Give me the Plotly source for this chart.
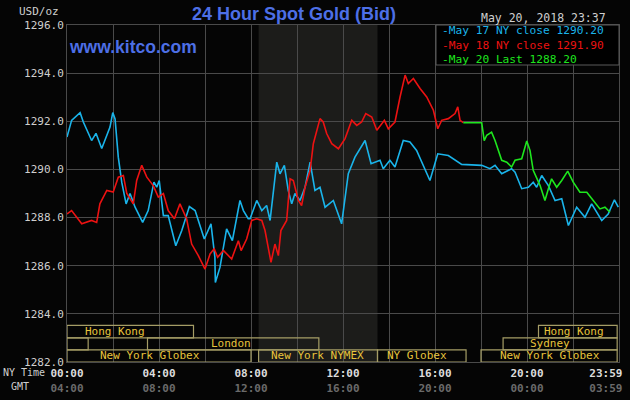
import plotly.graph_objects as go

# ---------------- data (hours since 00:00 NY time, USD/oz) ----------------
may17_hours = [0.00, 0.20, 0.57, 0.71, 1.07, 1.26, 1.51, 1.73, 1.87, 1.99, 2.09, 2.23, 2.38, 2.57, 2.74,
               2.96, 3.29, 3.53, 3.78, 3.90, 4.01, 4.19, 4.40, 4.73, 4.99, 5.32, 5.57, 5.97, 6.26, 6.43,
               6.45, 6.65, 6.94, 7.19, 7.52, 7.67, 7.88, 7.96, 8.25, 8.47, 8.68, 8.83, 9.12, 9.26, 9.45,
               9.62, 9.77, 9.91, 10.13, 10.35, 10.57, 10.78, 11.00, 11.22, 11.58, 11.94, 12.09, 12.23,
               12.52, 12.96, 13.22, 13.39, 13.61, 13.75, 14.04, 14.26, 14.62, 14.91, 15.20, 15.78, 16.12,
               16.58, 16.87, 17.16, 18.03, 18.39, 18.61, 18.90, 19.33, 19.48, 19.77, 20.06, 20.27, 20.42,
               20.64, 20.93, 21.22, 21.51, 21.80, 22.16, 22.52, 22.81, 23.25, 23.53, 23.80, 23.97]
may17_price = [1291.35, 1292.04, 1292.36, 1291.97, 1291.20, 1291.50, 1290.87, 1291.42, 1291.76, 1292.36,
               1292.10, 1290.51, 1289.47, 1288.57, 1289.00, 1288.43, 1287.80, 1288.29, 1289.47, 1289.26,
               1289.54, 1288.08, 1288.08, 1286.83, 1287.46, 1288.46, 1288.29, 1287.11, 1287.74, 1286.35,
               1285.30, 1285.93, 1287.53, 1287.04, 1288.71, 1288.29, 1287.95, 1287.95, 1288.71, 1288.29,
               1288.50, 1287.88, 1290.30, 1289.82, 1290.17, 1289.13, 1288.57, 1289.00, 1288.71, 1289.26,
               1290.30, 1289.13, 1289.26, 1288.43, 1288.71, 1287.74, 1288.71, 1289.82, 1290.51, 1291.20,
               1290.24, 1290.30, 1290.38, 1290.03, 1290.38, 1290.10, 1291.20, 1291.14, 1290.79, 1289.54,
               1290.65, 1290.58, 1290.38, 1290.21, 1290.17, 1290.03, 1290.17, 1289.82, 1290.03, 1289.89,
               1289.20, 1289.26, 1289.47, 1289.26, 1289.75, 1289.33, 1288.71, 1288.78, 1287.67, 1288.43,
               1288.01, 1288.57, 1287.88, 1288.15, 1288.74, 1288.43]

may18_hours = [0.00, 0.20, 0.64, 1.07, 1.29, 1.43, 1.73, 2.01, 2.23, 2.45, 2.60, 2.88, 3.03, 3.25, 3.47,
               3.75, 3.97, 4.19, 4.40, 4.67, 4.91, 5.20, 5.42, 5.71, 6.00, 6.22, 6.40, 6.55, 6.80, 7.16,
               7.45, 7.57, 7.81, 8.03, 8.25, 8.47, 8.61, 8.87, 9.04, 9.19, 9.30, 9.55, 9.70, 9.84, 10.06,
               10.20, 10.35, 10.57, 10.71, 11.00, 11.14, 11.29, 11.51, 11.80, 12.09, 12.38, 12.60, 12.81,
               12.99, 13.25, 13.47, 13.80, 13.97, 14.26, 14.48, 14.70, 14.84, 15.06, 15.35, 15.64, 15.93,
               16.12, 16.29, 16.58, 16.87, 16.99, 17.09, 17.23]
may18_price = [1288.15, 1288.29, 1287.74, 1287.88, 1287.80, 1288.57, 1289.13, 1289.06, 1289.68, 1289.75,
               1289.00, 1288.57, 1289.54, 1290.17, 1289.68, 1289.33, 1288.85, 1289.00, 1288.29, 1287.95,
               1288.57, 1287.95, 1286.90, 1286.42, 1285.86, 1286.49, 1286.70, 1286.35, 1286.63, 1286.28,
               1287.04, 1286.63, 1287.11, 1287.88, 1287.95, 1287.88, 1287.46, 1286.14, 1286.90, 1286.42,
               1287.46, 1287.88, 1289.61, 1289.54, 1288.71, 1288.50, 1289.26, 1289.96, 1291.07, 1292.11,
               1291.97, 1291.49, 1291.07, 1290.86, 1291.28, 1292.04, 1291.83, 1291.97, 1292.32, 1292.18,
               1291.63, 1292.04, 1291.69, 1291.97, 1293.01, 1293.92, 1293.57, 1293.78, 1293.36, 1293.01,
               1292.46, 1291.69, 1292.04, 1292.11, 1292.32, 1292.60, 1292.04, 1291.94]

may20_hours = [17.23, 18.03, 18.14, 18.25, 18.46, 18.61, 18.90, 19.12, 19.33, 19.48, 19.77, 19.99, 20.13,
               20.27, 20.57, 20.78, 20.93, 21.07, 21.29, 21.51, 21.77, 22.01, 22.30, 22.60, 22.88, 23.17,
               23.39, 23.61]
may20_price = [1291.94, 1291.94, 1291.20, 1291.42, 1291.55, 1291.20, 1290.38, 1290.30, 1290.10, 1290.38,
               1290.44, 1291.18, 1290.79, 1289.96, 1289.33, 1288.71, 1289.20, 1289.61, 1289.26, 1289.54,
               1289.93, 1289.47, 1289.05, 1289.05, 1288.71, 1288.36, 1288.43, 1288.22]

legend_texts = ["-May 17 NY close 1290.20", "-May 18 NY close 1291.90", "-May 20 Last 1288.20"]

x_tick_hours = [0, 4, 8, 12, 16, 20, 23.43]
ny_tick_labels = ["00:00", "04:00", "08:00", "12:00", "16:00", "20:00", "23:59"]
gmt_tick_labels = ["04:00", "08:00", "12:00", "16:00", "20:00", "00:00", "03:59"]
grid_hours = [2, 4, 6, 8, 10, 12, 14, 16, 18, 20, 22]
y_tick_values = [1282, 1284, 1286, 1288, 1290, 1292, 1294, 1296]

# sessions: (start hour, end hour, row, label, label hour)
sessions = [
    (0.00, 5.50, 0, "Hong Kong", 2.09),
    (20.50, 23.92, 0, "Hong Kong", 22.04),
    (0.00, 0.92, 1, "", None),
    (3.50, 10.95, 1, "London", 7.13),
    (18.96, 23.92, 1, "Sydney", 20.98),
    (0.00, 8.00, 2, "New York Globex", 3.60),
    (8.33, 13.50, 2, "New York NYMEX", 10.87),
    (13.50, 17.35, 2, "NY Globex", 15.20),
    (18.00, 23.92, 2, "New York Globex", 21.00),
]
row_bounds = [(1283.0, 1283.52), (1282.5, 1283.0), (1282.0, 1282.5)]
nymex_pit = (8.33, 13.5)

# ---------------- styling ----------------
C_BLUE = "#1ab4ea"
C_RED = "#ec1212"
C_GREEN = "#1ee61e"
C_GRID = "#4a4a4a"
C_TXT = "#cfcfcf"
C_SESS_TXT = "#e8c43c"
C_SESS_BOX = "#a59d66"
C_TITLE = "#4d6fe6"
MONO = "DejaVu Sans Mono"

W, H = 630, 400
L, R, T, B = 67, 11, 25, 38
PW, PH = W - L - R, H - T - B


def px(x):
    return (x - L) / PW


def py(y):
    return (H - B - y) / PH


fig = go.Figure()
fig.add_trace(go.Scatter(x=may17_hours, y=may17_price, mode="lines",
                         line=dict(color=C_BLUE, width=1.6), hoverinfo="skip"))
fig.add_trace(go.Scatter(x=may18_hours, y=may18_price, mode="lines",
                         line=dict(color=C_RED, width=1.6), hoverinfo="skip"))
fig.add_trace(go.Scatter(x=may20_hours, y=may20_price, mode="lines",
                         line=dict(color=C_GREEN, width=1.6), hoverinfo="skip"))

shapes = []
# NYMEX pit shading
shapes.append(dict(type="rect", xref="x", yref="paper", x0=nymex_pit[0], x1=nymex_pit[1], y0=0, y1=1,
                   fillcolor="#1c1c1a", line=dict(width=0), layer="below"))
annotations = []
for s0, s1, row, label, lx in sessions:
    y0, y1 = row_bounds[row]
    shapes.append(dict(type="rect", xref="x", yref="y", x0=s0, x1=s1, y0=y0, y1=y1,
                       line=dict(color=C_SESS_BOX, width=1.2), fillcolor="rgba(0,0,0,0)", layer="above"))
    if label:
        annotations.append(dict(x=lx, y=(y0 + y1) / 2, xref="x", yref="y", text=label, showarrow=False,
                                font=dict(family=MONO, size=11, color=C_SESS_TXT),
                                xanchor="center", yanchor="middle"))

# legend box
shapes.append(dict(type="rect", xref="paper", yref="paper", x0=px(436), x1=1.0, y0=py(65), y1=1.0,
                   fillcolor="#000000", line=dict(color="#5a5a5a", width=1), layer="above"))
legend_html = "<br>".join(f"<span style='color:{c}'>{t}</span>"
                          for t, c in zip(legend_texts, [C_BLUE, C_RED, C_GREEN]))
annotations.append(dict(x=px(440), y=py(45), xref="paper", yref="paper", text=legend_html,
                        showarrow=False, xanchor="left", yanchor="middle", align="left",
                        font=dict(family=MONO, size=11.2, color=C_TXT)))

annotations += [
    dict(x=px(294), y=py(14), xref="paper", yref="paper", text="<b>24 Hour Spot Gold (Bid)</b>",
         showarrow=False, xanchor="center", yanchor="middle",
         font=dict(family="Liberation Sans", size=18, color=C_TITLE)),
    dict(x=px(67), y=py(47), xref="paper", yref="paper", text="<b>www.kitco.com</b>",
         showarrow=False, xanchor="left", yanchor="middle",
         font=dict(family="Liberation Sans", size=17.5, color=C_TITLE)),
    dict(x=px(608), y=py(18), xref="paper", yref="paper", text="May 20, 2018 23:37",
         showarrow=False, xanchor="right", yanchor="middle",
         font=dict(family=MONO, size=11.5, color=C_TXT)),
    dict(x=px(61), y=py(12), xref="paper", yref="paper", text="USD/oz",
         showarrow=False, xanchor="right", yanchor="middle",
         font=dict(family=MONO, size=11, color=C_TXT)),
    dict(x=px(1), y=py(373), xref="paper", yref="paper", text="NY Time",
         showarrow=False, xanchor="left", yanchor="middle",
         font=dict(family=MONO, size=10, color=C_TXT)),
    dict(x=px(9), y=py(386), xref="paper", yref="paper", text="GMT",
         showarrow=False, xanchor="left", yanchor="middle",
         font=dict(family=MONO, size=10, color=C_TXT)),
]

x_tick_text = [f"<b>{a}</b><br><span style='color:#6a6a6a'><b>{b}</b></span>"
               for a, b in zip(ny_tick_labels, gmt_tick_labels)]

fig.update_layout(
    width=W, height=H,
    margin=dict(l=L, r=R, t=T, b=B, pad=0, autoexpand=False),
    paper_bgcolor="#050505", plot_bgcolor="#050505",
    showlegend=False,
    shapes=shapes, annotations=annotations,
    xaxis=dict(range=[0, 24], tickvals=x_tick_hours, ticktext=x_tick_text,
               showgrid=False, zeroline=False, automargin=False,
               showline=True, linecolor=C_GRID, mirror=True, ticks="", ticklen=0,
               ticklabelstandoff=1,
               minor=dict(tickvals=grid_hours, showgrid=True, gridcolor=C_GRID, gridwidth=1, ticks=""),
               tickfont=dict(family=MONO, size=11, color="#dcdcdc")),
    yaxis=dict(range=[1282, 1296], tickvals=y_tick_values, tickformat=".1f",
               showgrid=True, gridcolor=C_GRID, gridwidth=1, zeroline=False, automargin=False,
               showline=True, linecolor=C_GRID, mirror=True, ticks="", ticklen=0,
               tickfont=dict(family=MONO, size=11, color=C_TXT)),
)

fig.write_html("out.html")
